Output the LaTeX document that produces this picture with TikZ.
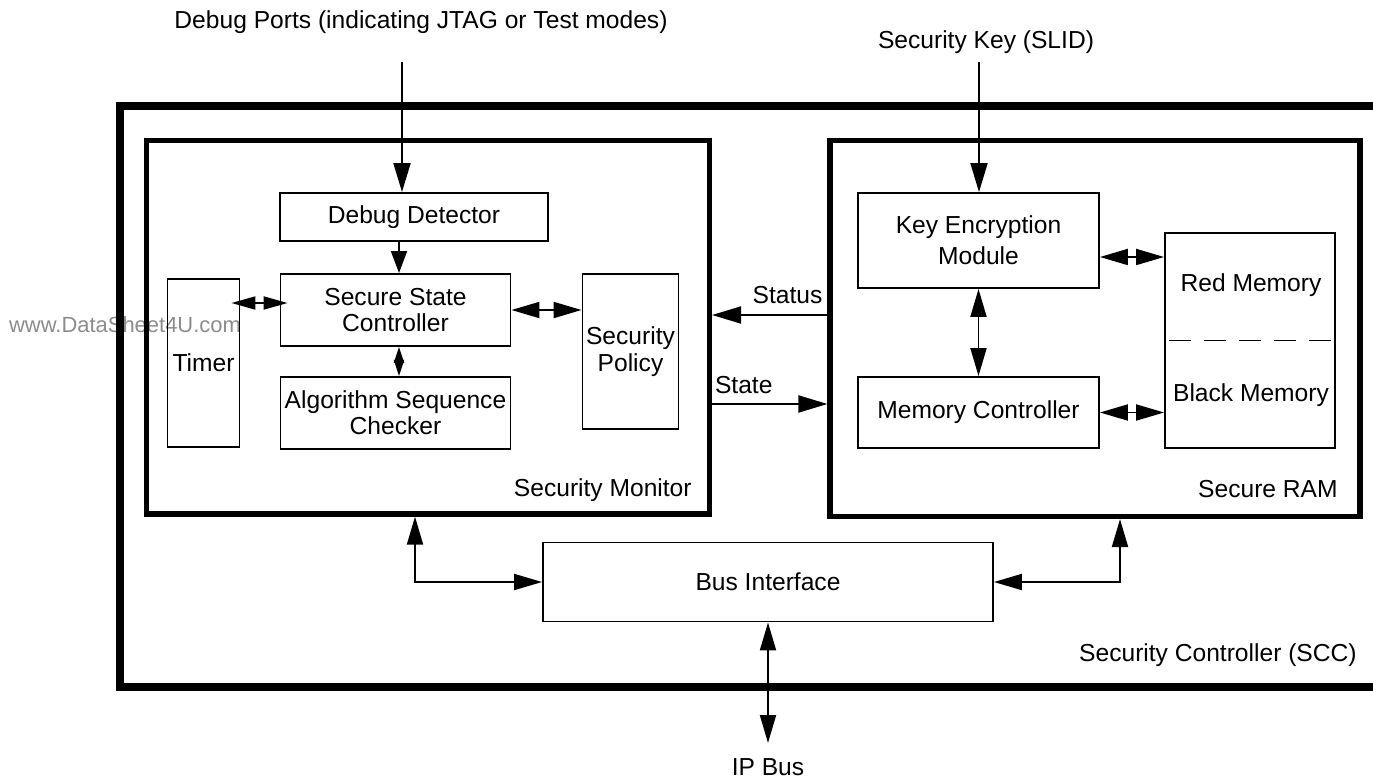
\documentclass[tikz,border=0pt]{standalone}
\usepackage{fontspec}
\setmainfont{Liberation Sans}
\usetikzlibrary{arrows.meta, positioning}

\begin{document}
\begin{tikzpicture}[
    x=0.02cm, y=-0.02cm,
    font=\fontsize{14}{15}\selectfont,
    box/.style={rectangle, draw, line width=1.1pt, inner sep=1pt, align=center},
    frame/.style={rectangle, draw, line width=3pt},
    arr/.style={-{Triangle[length=5.8mm, width=3.4mm]}, line width=1.1pt},
    inarr/.style={-{Triangle[length=4.4mm, width=3.2mm]}, line width=1.1pt},
    darr/.style={{Triangle[length=5.6mm, width=3.2mm]}-{Triangle[length=5.6mm, width=3.2mm]}, line width=1.1pt},
    marr/.style={{Triangle[length=4.8mm, width=2.6mm]}-{Triangle[length=4.8mm, width=2.6mm]}, line width=1.1pt},
    sarr/.style={{Triangle[length=3.2mm, width=2mm]}-{Triangle[length=3.2mm, width=2mm]}, line width=1pt},
    node distance=0.58cm,
  ]
  \useasboundingbox (0,0) rectangle (1373,778);

  \node[text=black!45, font=\fontsize{12.5}{14}\selectfont] (wmark) at (125,325) {www.DataSheet4U.com};

  % Frames
  \draw[line width=4.5pt] (1400,106) -- (120,106) -- (120,687) -- (1400,687);
  \node[frame, minimum width=11.26cm, minimum height=7.47cm] (sm) at (428,327.3) {};
  \node[frame, minimum width=10.6cm, minimum height=7.52cm] (sr) at (1095,328.5) {};

  % Security monitor
  \node[box, minimum width=5.36cm, minimum height=0.96cm] (dd) at (414,217) {Debug Detector};
  \node[box, minimum width=4.6cm, minimum height=1.44cm] (ssc) at (395.5,310) {Secure State\\Controller};
  \node[box, minimum width=4.6cm, minimum height=1.44cm, below=of ssc] (asc) {Algorithm Sequence\\Checker};
  \node[box, minimum width=1.44cm, minimum height=3.36cm] (timer) at (203.5,363) {Timer};
  \node[box, minimum width=1.92cm, minimum height=3.1cm] (pol) at (630.5,351.5) {Security\\Policy};

  % Secure RAM
  \node[box, minimum width=4.82cm, minimum height=1.9cm] (kem) at (978.5,240.5) {Key Encryption\\[0.1cm]Module};
  \node[box, minimum width=4.82cm, minimum height=1.42cm] (mc) at (978.5,412.5) {Memory Controller};
  \node[box, minimum width=3.4cm, minimum height=4.3cm] (mem) at (1250,340.5) {};
  \node (red) at (1251,285) {Red Memory};
  \node (black) at (1251,395) {Black Memory};
  \draw[line width=1.1pt, dash pattern=on 0.44cm off 0.26cm, dash phase=-0.1cm] (mem.west) -- (mem.east);

  \node[box, minimum width=9cm, minimum height=1.58cm] (bus) at (768,582) {Bus Interface};

  % Labels
  \node (dbgports) at (421,22) {Debug Ports (indicating JTAG or Test modes)};
  \node (seckey) at (986,42) {Security Key (SLID)};
  \node[inner sep=0pt] (ipbus) at (768,767) {IP Bus};
  \node[anchor=east, inner sep=0pt] (smlabel) at (692,490) {Security Monitor};
  \node[anchor=east, inner sep=0pt] (srlabel) at (1338,489) {Secure RAM};
  \node[anchor=east, inner sep=0pt] (scclabel) at (1357,655) {Security Controller (SCC)};

  \coordinate (dbgin) at (402,62);
  \coordinate (keyin) at (979,62);
  \coordinate (ipend) at (768,743);
  \path ([xshift=0.07cm]ssc.north) coordinate (sscin)
        ([yshift=0.14cm, xshift=0.16cm]ssc.west) coordinate (sscw)
        ([xshift=-0.18cm]timer.east) coordinate (timerout)
        ([yshift=0.27cm]sr.west) coordinate (statusout)
        ([yshift=-1.51cm]sr.west) coordinate (statein)
        ([yshift=-0.33cm]kem.east) coordinate (kemout);

  % Inputs
  \draw[arr] (dbgin) -- (dbgin |- dd.north);
  \draw[arr] (keyin) -- (keyin |- kem.north);

  % Inside the monitor
  \draw[inarr] (sscin |- dd.south) -- (sscin);
  \draw[sarr] ([xshift=0.07cm]ssc.south) -- ([xshift=0.07cm]asc.north);
  \draw[marr] (timerout |- sscw) -- (sscw);
  \draw[darr] (ssc.east) -- (ssc.east -| pol.west);

  % Status and state
  \draw[arr] (statusout) -- node[pos=0, anchor=south east, inner sep=0pt, xshift=-0.08cm, yshift=0.2cm] {Status} (statusout -| sm.east);
  \draw[arr] (statein -| sm.east) -- node[pos=0, anchor=south west, inner sep=0pt, xshift=0.04cm, yshift=0.18cm] {State} (statein);

  % Inside the RAM
  \draw[darr] (kem.south) -- (mc.north);
  \draw[darr] (kemout) -- (kemout -| mem.west);
  \draw[darr] (mc.east) -- (mc.east -| mem.west);

  % Bus
  \draw[darr] ([xshift=-0.26cm]sm.south) |- (bus.west);
  \draw[darr] (bus.east) -| ([xshift=0.5cm]sr.south);
  \draw[darr] (bus.south) -- (ipend);
\end{tikzpicture}
\end{document}
